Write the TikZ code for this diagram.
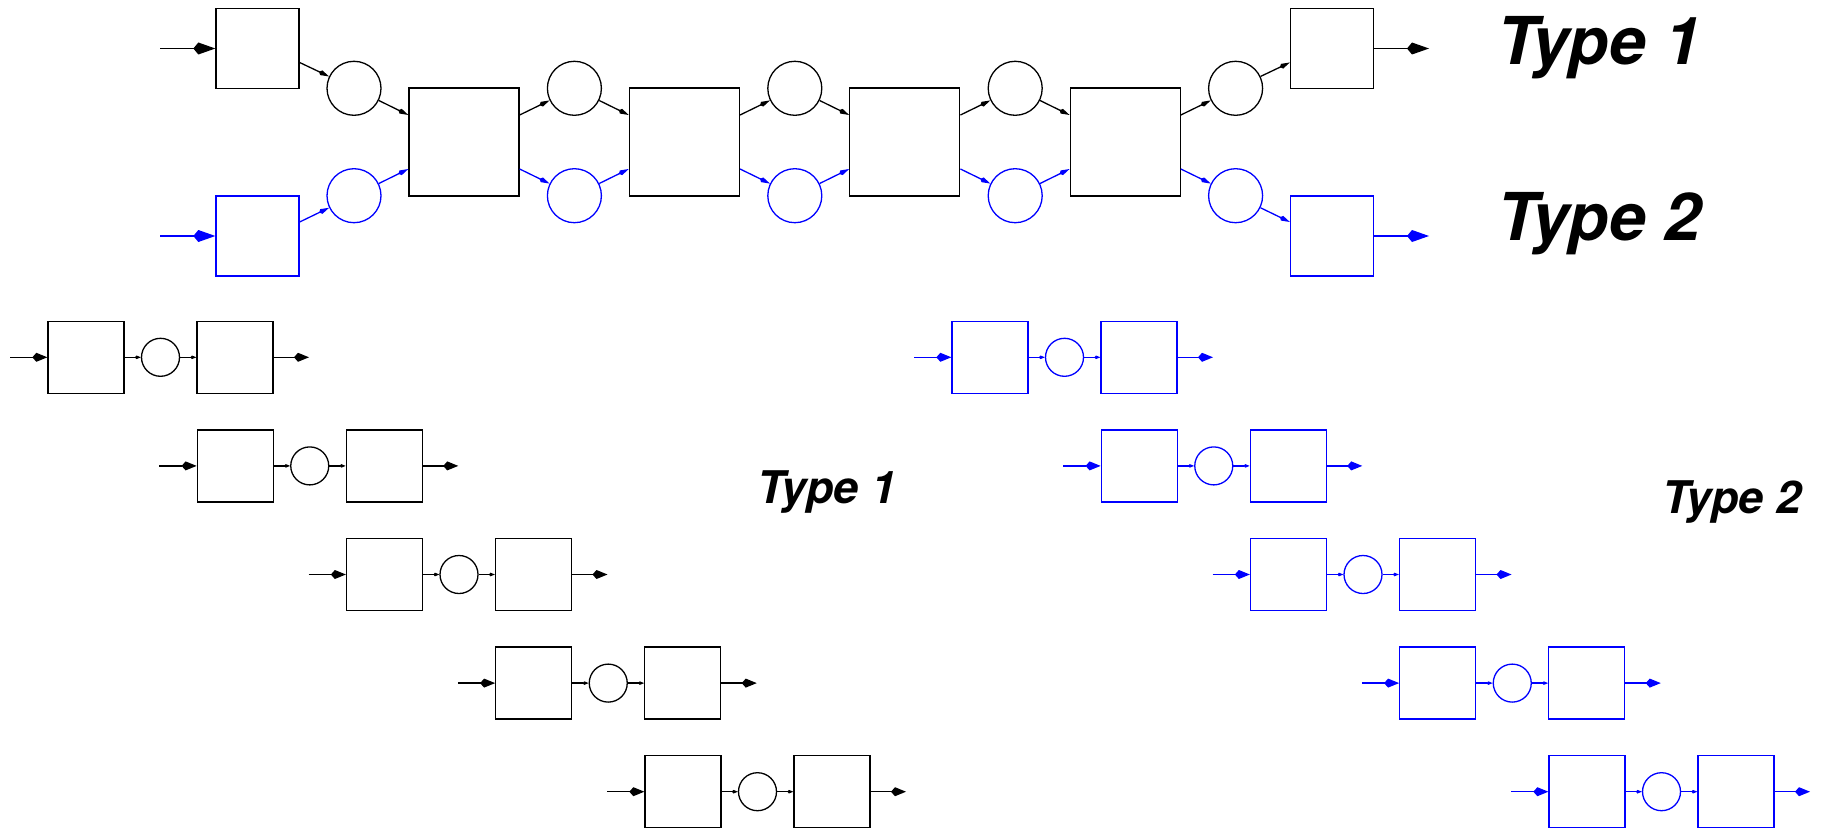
\documentclass[tikz,border=0pt]{standalone}
\usepackage{fontspec}
\setmainfont{TeX Gyre Heros}
\usetikzlibrary{arrows.meta}

\tikzset{
  sbox/.style={draw, inner sep=0pt, minimum width=38pt, minimum height=36pt},
  tbox/.style={draw, inner sep=0pt, minimum width=41.5pt, minimum height=40pt},
  bbox/.style={draw, inner sep=0pt, minimum width=55pt, minimum height=54pt},
  sring/.style={draw, circle, inner sep=0pt, minimum size=19pt},
  tring/.style={draw, circle, inner sep=0pt, minimum size=27pt},
  linktip/.style={-{Kite[length=5.5pt,width=2.6pt,inset=1.2pt]}},
  bigtip/.style={-{Kite[length=11pt,width=6pt,inset=2.5pt]}},
  midtip/.style={-{Kite[length=7.5pt,width=4.5pt,inset=2pt]}},
  smalltip/.style={-{Kite[length=3pt,width=1.8pt,inset=0.8pt]}},
  lbl/.style={anchor=base west, inner sep=0pt}
}

\begin{document}
\begin{tikzpicture}[x=0.5pt,y=-0.5pt,line width=0.65pt]
\useasboundingbox (0,0) rectangle (1824,829);

% top chain
\node[tbox] (tl) at (257.5,48.5) {};
\node[tbox] (tr) at (1332,48.5) {};
\node[tbox,blue] (bl) at (257.5,236) {};
\node[tbox,blue] (br) at (1332,236) {};
\foreach \i [evaluate=\i as \x using 464+220.4*(\i-1)] in {1,...,4}
  \node[bbox] (bb\i) at (\x,142) {};
\foreach \i [evaluate=\i as \x using 354+220.4*(\i-1)] in {1,...,5} {
  \node[tring] (tc\i) at (\x,88.3) {};
  \node[tring,blue] (bc\i) at (\x,195.7) {};
}
\coordinate (tin) at (160,48.5);
\coordinate (tout) at (1429,48.5);
\coordinate (bin) at (160,236);
\coordinate (bout) at (1429,236);

\draw[bigtip] (tin) -- (tl.west);
\draw[linktip] ([yshift=-7pt]tl.east) -- (tc1);
\draw[linktip] (tc1) -- ([yshift=13.5pt]bb1.west);
\foreach \i [evaluate=\i as \j using int(\i+1)] in {1,...,4}
  \draw[linktip] ([yshift=13.5pt]bb\i.east) -- (tc\j);
\foreach \i [evaluate=\i as \j using int(\i+1)] in {1,...,3}
  \draw[linktip] (tc\j) -- ([yshift=13.5pt]bb\j.west);
\draw[linktip] (tc5) -- ([yshift=-7pt]tr.west);
\draw[bigtip] (tr.east) -- (tout);

\begin{scope}[blue]
\draw[bigtip] (bin) -- (bl.west);
\draw[linktip] ([yshift=7pt]bl.east) -- (bc1);
\draw[linktip] (bc1) -- ([yshift=-13.5pt]bb1.west);
\foreach \i [evaluate=\i as \j using int(\i+1)] in {1,...,4}
  \draw[linktip] ([yshift=-13.5pt]bb\i.east) -- (bc\j);
\foreach \i [evaluate=\i as \j using int(\i+1)] in {1,...,3}
  \draw[linktip] (bc\j) -- ([yshift=-13.5pt]bb\j.west);
\draw[linktip] (bc5) -- ([yshift=7pt]br.west);
\draw[bigtip] (br.east) -- (bout);
\end{scope}

\node[lbl,font=\fontsize{33}{39}\selectfont\bfseries\itshape] (ttop) at (1497,65) {Type 1};
\node[lbl,font=\fontsize{33}{39}\selectfont\bfseries\itshape] (btop) at (1497,240) {Type 2};

% small chains
\foreach \i [evaluate=\i as \x using 86+149.25*\i,
             evaluate=\i as \y using 357.3+108.6*\i] in {0,...,4} {
  \node[sbox] (ka\i) at (\x,\y) {};
  \node[sring] (kc\i) at (\x+74.5,\y) {};
  \node[sbox] (kb\i) at (\x+149,\y) {};
  \coordinate (kin\i) at (\x-76,\y);
  \coordinate (kout\i) at (\x+223,\y);
  \draw[midtip] (kin\i) -- (ka\i.west);
  \draw[smalltip] (ka\i.east) -- (kc\i.west);
  \draw[smalltip] (kc\i.east) -- (kb\i.west);
  \draw[midtip] (kb\i.east) -- (kout\i);
}
\foreach \i [evaluate=\i as \x using 990+149.25*\i,
             evaluate=\i as \y using 357.3+108.6*\i] in {0,...,4} {
  \begin{scope}[blue]
  \node[sbox] (na\i) at (\x,\y) {};
  \node[sring] (nc\i) at (\x+74.5,\y) {};
  \node[sbox] (nb\i) at (\x+149,\y) {};
  \coordinate (nin\i) at (\x-76,\y);
  \coordinate (nout\i) at (\x+223,\y);
  \draw[midtip] (nin\i) -- (na\i.west);
  \draw[smalltip] (na\i.east) -- (nc\i.west);
  \draw[smalltip] (nc\i.east) -- (nb\i.west);
  \draw[midtip] (nb\i.east) -- (nout\i);
  \end{scope}
}

\node[lbl,font=\fontsize{22.5}{27}\selectfont\bfseries\itshape] (tlow) at (757,503) {Type 1};
\node[lbl,font=\fontsize{22.5}{27}\selectfont\bfseries\itshape] (blow) at (1662,513) {Type 2};
\end{tikzpicture}
\end{document}
